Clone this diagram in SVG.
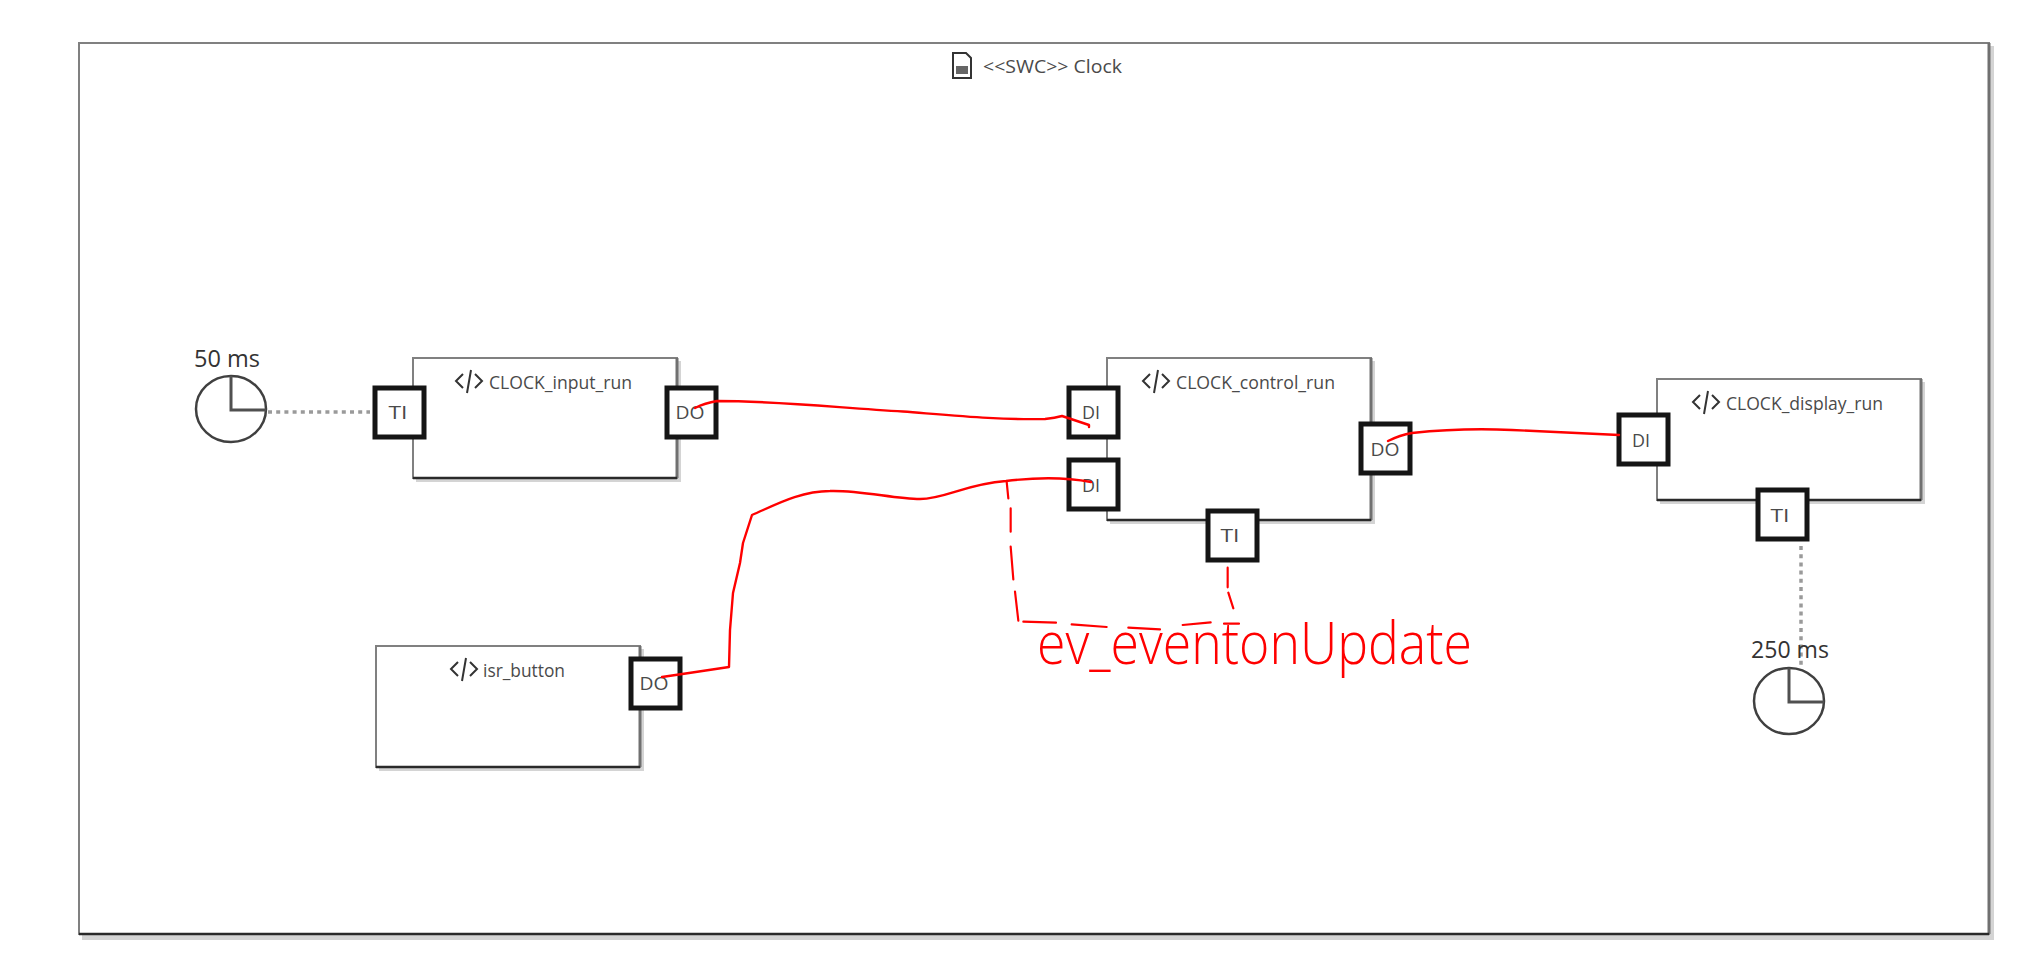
<svg xmlns="http://www.w3.org/2000/svg" width="2023" height="980" viewBox="0 0 2023 980">
<style>
text{font-family:"Open Sans","Noto Sans","Liberation Sans",sans-serif;fill:#4a4a4a}
.title{font-size:18.5px}
.lbl{font-size:18.5px}
.port{font-size:19px;text-anchor:middle}
.rate{font-size:23px;fill:#333;text-anchor:middle}
.shadow{fill:#d4d4d4}
.box{fill:#fff;stroke:#808080;stroke-width:2}
.rb{fill:none;stroke:#707070;stroke-width:3}
.bb{fill:none;stroke:#2a2a2a;stroke-width:2.5}
.p{fill:#fff;stroke:#151515;stroke-width:5}
.dot{fill:none;stroke:#9a9a9a;stroke-width:3.5;stroke-dasharray:4 4.2}
.clock{fill:none;stroke:#404040;stroke-width:2.5}
.hand{fill:none;stroke:#505050;stroke-width:3}
.icon{fill:none;stroke:#333;stroke-width:2}
.red{fill:none;stroke:#f00;stroke-width:2.4;stroke-linejoin:round;stroke-linecap:round}
.hw{font-size:58px;font-weight:300;fill:#f00}
</style>
<defs>
<g id="code"><path class="icon" d="M8 4L1 11L8 18M20 4L27 11L20 18M16 0L12 23"/></g>
</defs>
<rect width="2023" height="980" fill="#fff"/>
<g id="swc">
<rect class="shadow" x="82" y="46" width="1912" height="894"/>
<rect class="box" x="79" y="43" width="1910" height="891"/>
<path class="rb" d="M1989 43V934"/>
<path class="bb" d="M79 934H1989"/>
<path fill="#fff" stroke="#333" stroke-width="2" d="M953 53H966L971 58V78H953Z"/>
<rect x="956" y="66" width="12" height="8" fill="#666"/>
<text class="title" x="983" y="73" textLength="139" lengthAdjust="spacingAndGlyphs">&lt;&lt;SWC&gt;&gt; Clock</text>
</g>
<g id="connectors">
<path class="dot" d="M268 412H370"/>
<path class="dot" d="M1801 546V668"/>
</g>
<g id="clock50">
<ellipse class="clock" cx="231" cy="409" rx="35" ry="33"/>
<path class="hand" d="M231 376V410H266"/>
<text class="rate" x="227" y="367" textLength="66" lengthAdjust="spacingAndGlyphs">50 ms</text>
</g>
<g id="clock250">
<ellipse class="clock" cx="1789" cy="701" rx="35" ry="33"/>
<path class="hand" d="M1789 668V702H1824"/>
<text class="rate" x="1790" y="658" textLength="78" lengthAdjust="spacingAndGlyphs">250 ms</text>
</g>
<g id="CLOCK_input_run">
<rect class="shadow" x="416" y="361" width="265" height="121"/>
<rect class="box" x="413" y="358" width="264" height="120"/>
<path class="rb" d="M677 358V478"/><path class="bb" d="M413 478H677"/>
<use href="#code" x="455" y="370"/>
<text class="lbl" x="489" y="389" textLength="143" lengthAdjust="spacingAndGlyphs">CLOCK_input_run</text>
<rect class="p" x="375" y="388" width="49" height="49"/><text class="port" x="398" y="419" textLength="19" lengthAdjust="spacingAndGlyphs">TI</text>
<rect class="p" x="667" y="388" width="49" height="49"/><text class="port" x="690" y="419" textLength="29" lengthAdjust="spacingAndGlyphs">DO</text>
</g>
<g id="CLOCK_control_run">
<rect class="shadow" x="1110" y="361" width="265" height="163"/>
<rect class="box" x="1107" y="358" width="264" height="162"/>
<path class="rb" d="M1371 358V520"/><path class="bb" d="M1107 520H1371"/>
<use href="#code" x="1142" y="370"/>
<text class="lbl" x="1176" y="389" textLength="159" lengthAdjust="spacingAndGlyphs">CLOCK_control_run</text>
<rect class="p" x="1069" y="388" width="49" height="49"/><text class="port" x="1091" y="419" textLength="18" lengthAdjust="spacingAndGlyphs">DI</text>
<rect class="p" x="1069" y="460" width="49" height="49"/><text class="port" x="1091" y="492" textLength="18" lengthAdjust="spacingAndGlyphs">DI</text>
<rect class="p" x="1361" y="424" width="49" height="49"/><text class="port" x="1385" y="456" textLength="29" lengthAdjust="spacingAndGlyphs">DO</text>
<rect class="p" x="1208" y="511" width="49" height="49"/><text class="port" x="1230" y="542" textLength="19" lengthAdjust="spacingAndGlyphs">TI</text>
</g>
<g id="CLOCK_display_run">
<rect class="shadow" x="1660" y="382" width="265" height="122"/>
<rect class="box" x="1657" y="379" width="264" height="121"/>
<path class="rb" d="M1921 379V500"/><path class="bb" d="M1657 500H1921"/>
<use href="#code" x="1692" y="391"/>
<text class="lbl" x="1726" y="410" textLength="157" lengthAdjust="spacingAndGlyphs">CLOCK_display_run</text>
<rect class="p" x="1619" y="415" width="49" height="49"/><text class="port" x="1641" y="447" textLength="18" lengthAdjust="spacingAndGlyphs">DI</text>
<rect class="p" x="1758" y="490" width="49" height="49"/><text class="port" x="1780" y="522" textLength="19" lengthAdjust="spacingAndGlyphs">TI</text>
</g>
<g id="isr_button">
<rect class="shadow" x="379" y="649" width="265" height="122"/>
<rect class="box" x="376" y="646" width="264" height="121"/>
<path class="rb" d="M640 646V767"/><path class="bb" d="M376 767H640"/>
<use href="#code" x="450" y="658"/>
<text class="lbl" x="483" y="677" textLength="82" lengthAdjust="spacingAndGlyphs">isr_button</text>
<rect class="p" x="631" y="659" width="49" height="49"/><text class="port" x="654" y="690" textLength="29" lengthAdjust="spacingAndGlyphs">DO</text>
</g>
<g id="red-connectors">
<path class="red" d="M695 408Q705 403 717 401C780 401 840 408 903 411.5C960 416 1000 420 1045 419Q1055 418 1062 416L1089 425V427"/>
<path class="red" d="M662 677L689 673L729 667L730 630L733 593L740 563L743 543L752 515C775 505 800 491 830 491C860 490 895 499 920 499C945 499 965 484 1006 481C1030 478 1060 476 1091 482"/>
<path class="red" d="M1388 441Q1400 435 1412 433C1440 430 1470 428 1512 430L1619 435"/>
<g transform="translate(1000 340) scale(.33333)">
<path class="red" style="stroke-width:6.5" d="M20 425L25 475M32 505V575M32 620L40 718M45 755L55 842M70 845L168 848M215 853L320 861M385 863L480 868M548 855L632 847M672 851H717M683 683V742M685 758L700 805"/>
</g>
</g>
<g id="handwritten">
<text class="hw" x="1037" y="664" textLength="435" lengthAdjust="spacingAndGlyphs">ev_eventonUpdate</text>
</g>
</svg>
